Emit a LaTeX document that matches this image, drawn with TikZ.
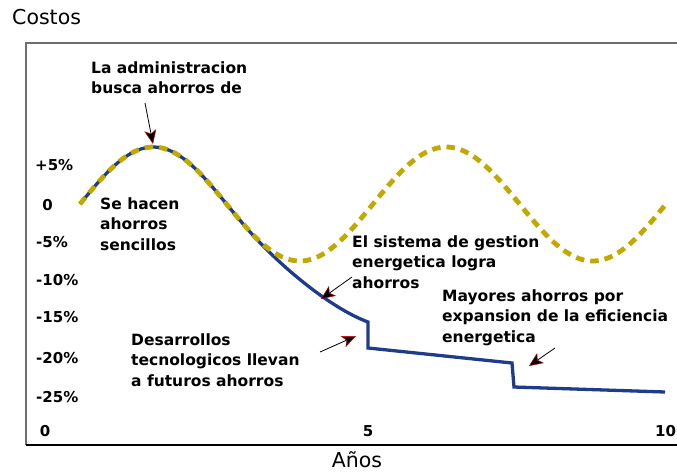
\documentclass[tikz,border=0pt]{standalone}
\usepackage{fontspec}
\setmainfont{DejaVu Sans}
\usetikzlibrary{arrows.meta}
\definecolor{navy}{HTML}{1F3C88}
\definecolor{olivey}{HTML}{C2A900}
\definecolor{framegray}{HTML}{6E6E6E}
\begin{document}
\begin{tikzpicture}[x=1pt,y=-1pt,
  lbl/.style={font=\fontsize{15.5}{20.5}\selectfont\bfseries, inner sep=0pt, align=left, anchor=base west},
  axl/.style={font=\fontsize{15}{18}\selectfont\bfseries, inner sep=0pt, anchor=base west},
  axc/.style={font=\fontsize{15}{18}\selectfont\bfseries, inner sep=0pt, anchor=base},
  title/.style={font=\fontsize{20.5}{24}\selectfont, inner sep=0pt, anchor=base west},
  ptr/.style={line width=0.8pt, black, -{Stealth[length=14pt,width=12pt,inset=3.5pt,fill=black,color=red!85!black,line width=0.45pt]}},
  bluecurve/.style={line width=3.3pt, navy},
  yellowcurve/.style={line width=4.8pt, olivey, dash pattern=on 8.5pt off 6pt}
  ]
\useasboundingbox (0,0) rectangle (677,472);
% frame
\draw[framegray, line width=2pt] (677,43) -- (26,43) -- (26,445);
\draw[black, line width=1.5pt] (26,445) -- (677,445);
% titles
\node[title] (costos) at (12,24) {Costos};
\node[title, anchor=base] (anos) at (357,467) {Años};
% axis labels
\node[axl] (yp5) at (35,170) {+5\%};
\node[axc] (y0) at (47.5,210) {0};
\node[axl] (ym5) at (36,247) {-5\%};
\node[axl] (ym10) at (36,285) {-10\%};
\node[axl] (ym15) at (36,322) {-15\%};
\node[axl] (ym20) at (36,363) {-20\%};
\node[axl] (ym25) at (36,402) {-25\%};
\node[axc] (x0) at (45,436) {0};
\node[axc] (x5) at (368,436) {5};
\node[axl] (x10) at (655,436) {10};
% curves
\draw[bluecurve] plot[domain=80:240, samples=40, smooth] (\x, {204-57*sin((\x-80)/293*360)})
  .. controls (275,263) and (330,308) .. (368,322) -- (368,348) -- (512,363) -- (514,387) -- (665,392);
\draw[yellowcurve] plot[domain=80:668, samples=120, smooth] (\x, {204-57*sin((\x-80)/293*360)});
% annotations (base anchor = last line)
\node[lbl] (admin) at (91,93.5) {La administracion\\busca ahorros de};
\node[lbl] (sencillos) at (100,250) {Se hacen\\ahorros\\sencillos};
\node[lbl] (sistema) at (352,288) {El sistema de gestion\\energetica logra\\ahorros};
\node[lbl] (mayores) at (442,342) {Mayores ahorros por\\expansion de la eficiencia\\energetica};
\node[lbl] (desarrollos) at (131,386) {Desarrollos\\tecnologicos llevan\\a futuros ahorros};
% arrows
\coordinate (a1s) at (145,103); \coordinate (a1e) at (153,144);
\coordinate (a2s) at (352,277); \coordinate (a2e) at (321,299);
\coordinate (a3s) at (320,352); \coordinate (a3e) at (356,336);
\coordinate (a4s) at (555,348); \coordinate (a4e) at (529,366);
\draw[ptr] (a1s) -- (a1e);
\draw[ptr] (a2s) -- (a2e);
\draw[ptr] (a3s) -- (a3e);
\draw[ptr] (a4s) -- (a4e);
\end{tikzpicture}
\end{document}
